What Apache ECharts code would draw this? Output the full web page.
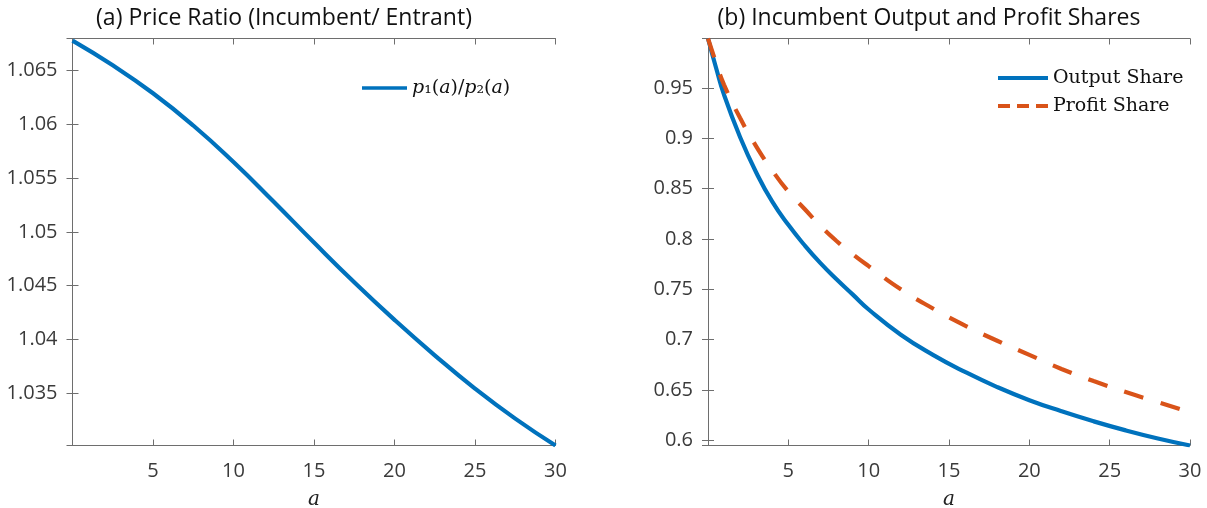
<!DOCTYPE html>
<html>
<head>
<meta charset="utf-8">
<title>Price ratio and incumbent shares</title>
<script src="https://cdn.jsdelivr.net/npm/echarts@6/dist/echarts.min.js"></script>
<style>
  html, body { margin: 0; padding: 0; background: #fff; }
  #chart { width: 1207px; height: 508px; }
</style>
</head>
<body>
<div id="chart"></div>
<script>
// (a) price ratio p1(a)/p2(a)
const aRatio = [0, 2.5, 5, 7.5, 10, 12.5, 15, 17.5, 20, 22.5, 25, 27.5, 30]
const priceRatio = [1.0678, 1.0655, 1.0629, 1.0599, 1.0565, 1.0528, 1.0490, 1.0453, 1.0418, 1.0385, 1.0354, 1.0326, 1.0301]

// (b) incumbent output and profit shares
const aShares = [0, 0.5, 1, 2, 3, 4, 5, 6, 7, 8, 9, 10, 12, 14, 16, 18, 20, 22, 24, 26, 28, 30]
const outputShare = [0.999, 0.970, 0.943, 0.901, 0.866, 0.837, 0.814, 0.794, 0.776, 0.760, 0.745, 0.730, 0.705, 0.685, 0.668, 0.653, 0.640, 0.629, 0.619, 0.610, 0.602, 0.595]
const profitShare = [0.999, 0.975, 0.953, 0.920, 0.892, 0.868, 0.847, 0.830, 0.813, 0.798, 0.785, 0.773, 0.750, 0.731, 0.714, 0.699, 0.685, 0.671, 0.659, 0.648, 0.638, 0.628]

const BLUE = '#0072BD'
const ORANGE = '#D95319'
const AXIS = '#6e6e6e'
const SANS = '"Open Sans", "Noto Sans", sans-serif'
const SERIF = '"DejaVu Serif", "Liberation Serif", serif'

// legend swatches: a plain bar and three dashes
const SOLID_ICON = 'path://M0,0H50V4H0Z'
const DASH_ICON = 'path://M0,0H12V4H0Z M19,0H31V4H19Z M38,0H50V4H38Z'

const pairs = (xs, ys) => xs.map((x, i) => [x, ys[i]])

// bottom/left axes carry labels, top/right ones only mirror the ticks (matlab box)
function xAxes(grid) {
  return [
    {
      type: 'value', gridIndex: grid, min: 0, max: 30, splitNumber: 6,
      name: 'a', nameLocation: 'middle', nameGap: 44,
      nameTextStyle: { fontFamily: SERIF, fontStyle: 'italic', fontSize: 20, color: '#222' },
      axisLine: { show: true, lineStyle: { color: AXIS } },
      axisTick: { inside: true, length: 6, lineStyle: { color: AXIS } },
      axisLabel: { showMinLabel: false, margin: 16, fontFamily: SANS, fontSize: 20, color: '#3a3a3a' },
      splitLine: { show: false }
    },
    {
      type: 'value', gridIndex: grid, position: 'top', min: 0, max: 30, splitNumber: 6,
      axisLine: { show: true, lineStyle: { color: AXIS } },
      axisTick: { inside: true, length: 6, lineStyle: { color: AXIS } },
      axisLabel: { show: false },
      splitLine: { show: false }
    }
  ]
}

function yAxes(grid, min, max, n) {
  return [
    {
      type: 'value', gridIndex: grid, min: min, max: max, splitNumber: n,
      axisLine: { show: true, lineStyle: { color: AXIS } },
      axisTick: { show: true, inside: true, length: 6, lineStyle: { color: AXIS } },
      axisLabel: { showMinLabel: false, showMaxLabel: false, margin: 15, fontFamily: SANS, fontSize: 20, color: '#3a3a3a' },
      splitLine: { show: false }
    },
    {
      type: 'value', gridIndex: grid, position: 'right', min: min, max: max, splitNumber: n,
      axisLine: { show: true, lineStyle: { color: AXIS } },
      axisTick: { show: true, inside: true, length: 6, lineStyle: { color: AXIS } },
      axisLabel: { show: false },
      splitLine: { show: false }
    }
  ]
}

const chart = echarts.init(document.getElementById('chart'), null, { renderer: 'canvas' })

const option = {
  backgroundColor: '#fff',
  animation: false,
  title: [
    {
      text: '(a) Price Ratio (Incumbent/ Entrant)', left: 279, top: 2, textAlign: 'center',
      textStyle: { fontFamily: SANS, fontWeight: 'normal', fontSize: 23, color: '#111' }
    },
    {
      text: '(b) Incumbent Output and Profit Shares', left: 924, top: 2, textAlign: 'center',
      textStyle: { fontFamily: SANS, fontWeight: 'normal', fontSize: 23, color: '#111' }
    }
  ],
  legend: [
    {
      data: [{ name: 'ratio', icon: SOLID_ICON }], orient: 'vertical', left: 357, top: 69,
      itemWidth: 45, itemHeight: 4,
      formatter: () => '{i|p}{n|₁(}{i|a}{n|)/}{i|p}{n|₂(}{i|a}{n|)}',
      textStyle: {
        lineHeight: 28,
        rich: {
          i: { fontFamily: SERIF, fontStyle: 'italic', fontSize: 19, color: '#111', lineHeight: 28 },
          n: { fontFamily: SERIF, fontSize: 19, color: '#111', lineHeight: 28 }
        }
      }
    },
    {
      data: [
        { name: 'Output Share', icon: SOLID_ICON },
        { name: 'Profit Share', icon: DASH_ICON }
      ],
      orient: 'vertical', left: 993, top: 59, itemGap: 0,
      itemWidth: 50, itemHeight: 4,
      textStyle: { fontFamily: SERIF, fontSize: 19, color: '#111', lineHeight: 28 }
    }
  ],
  grid: [
    { left: 72.5, top: 38.5, width: 483, height: 407, outerBoundsMode: 'none', containLabel: false },
    { left: 708, top: 38.5, width: 482, height: 407, outerBoundsMode: 'none', containLabel: false }
  ],
  xAxis: [...xAxes(0), ...xAxes(1)],
  yAxis: [...yAxes(0, 1.0301, 1.0680, 7), ...yAxes(1, 0.595, 0.999, 8)],
  series: [
    {
      name: 'ratio', type: 'line', xAxisIndex: 0, yAxisIndex: 0,
      data: pairs(aRatio, priceRatio), smooth: 0.5, showSymbol: false, symbol: 'none',
      lineStyle: { color: BLUE, width: 4.2 }, itemStyle: { color: BLUE }
    },
    {
      name: 'Output Share', type: 'line', xAxisIndex: 2, yAxisIndex: 2,
      data: pairs(aShares, outputShare), smooth: 0.5, showSymbol: false, symbol: 'none',
      lineStyle: { color: BLUE, width: 4.2 }, itemStyle: { color: BLUE }
    },
    {
      name: 'Profit Share', type: 'line', xAxisIndex: 2, yAxisIndex: 2,
      data: pairs(aShares, profitShare), smooth: 0.5, showSymbol: false, symbol: 'none',
      lineStyle: { color: ORANGE, width: 4.2, type: [20, 18] }, itemStyle: { color: ORANGE }
    }
  ]
}

chart.setOption(option)
</script>
</body>
</html>
